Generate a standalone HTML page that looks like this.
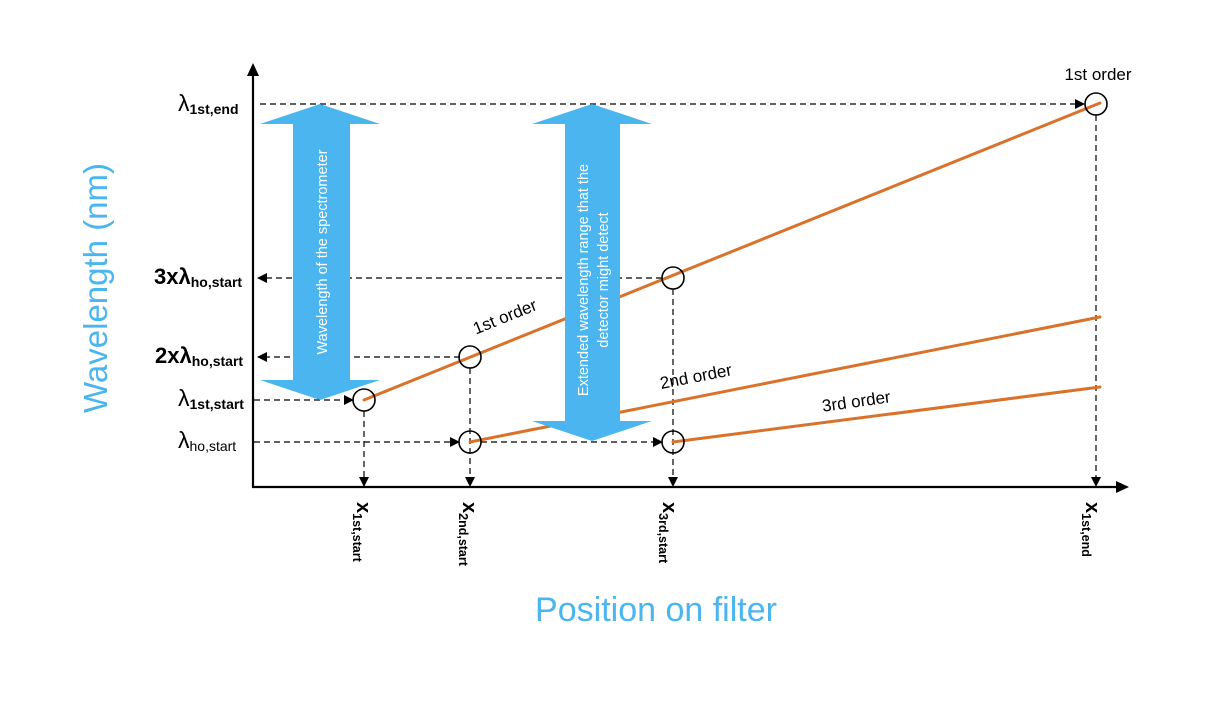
<!DOCTYPE html>
<html><head><meta charset="utf-8"><style>
html,body{margin:0;padding:0;background:#fff}
svg{display:block}
text{font-family:"Liberation Sans",sans-serif}
</style></head><body>
<svg width="1224" height="709" viewBox="0 0 1224 709" xmlns="http://www.w3.org/2000/svg">
<defs>
<marker id="ah" markerWidth="10" markerHeight="10" refX="9" refY="5" orient="auto" markerUnits="userSpaceOnUse"><path d="M0,0 L10,5 L0,10 z" fill="#000"/></marker>
</defs>
<g stroke="#000" stroke-width="1.2" stroke-dasharray="6,4" fill="none" marker-end="url(#ah)">
<line x1="260" y1="104" x2="1084" y2="104"/>
<line x1="662" y1="278" x2="258" y2="278"/>
<line x1="460" y1="357" x2="258" y2="357"/>
<line x1="254" y1="400" x2="353" y2="400"/>
<line x1="254" y1="442" x2="459" y2="442"/>
<line x1="481" y1="442" x2="662" y2="442"/>
<line x1="364" y1="411" x2="364" y2="486"/>
<line x1="470" y1="368" x2="470" y2="486"/>
<line x1="673" y1="289" x2="673" y2="486"/>
<line x1="1096" y1="115" x2="1096" y2="486"/>
</g>
<g stroke="#D9722A" stroke-width="3" stroke-linecap="round">
<line x1="364" y1="400" x2="1100" y2="103"/>
<line x1="470" y1="442" x2="1100" y2="317"/>
<line x1="673" y1="442" x2="1100" y2="387"/>
</g>
<g stroke="#000" stroke-width="1.6" fill="none">
<circle cx="364" cy="400" r="11"/>
<circle cx="470" cy="357" r="11"/>
<circle cx="470" cy="442" r="11"/>
<circle cx="673" cy="278" r="11"/>
<circle cx="673" cy="442" r="11"/>
<circle cx="1096" cy="104" r="11"/>
</g>
<line x1="253" y1="488" x2="253" y2="74" stroke="#000" stroke-width="2.2"/>
<path d="M247,76 L253,63 L259,76 z" fill="#000"/>
<line x1="252" y1="487" x2="1118" y2="487" stroke="#000" stroke-width="2.2"/>
<path d="M1116,481 L1129,487 L1116,493 z" fill="#000"/>
<path d="M320,104 L380,124 L350,124 L350,380 L380,380 L320,400 L260,380 L293,380 L293,124 L260,124 z" fill="#4AB5EF"/>
<path d="M592,104 L652,124 L620,124 L620,421 L652,421 L592,441 L532,421 L565,421 L565,124 L532,124 z" fill="#4AB5EF"/>
<text transform="translate(327,252) rotate(-90)" text-anchor="middle" fill="#fff" font-size="14.5">Wavelength of the spectrometer</text>
<text transform="translate(588,280) rotate(-90)" text-anchor="middle" fill="#fff" font-size="14.5">Extended wavelength range that the</text>
<text transform="translate(608,280) rotate(-90)" text-anchor="middle" fill="#fff" font-size="14.5">detector might detect</text>
<text transform="translate(507,322) rotate(-22)" text-anchor="middle" font-size="17">1st order</text>
<text transform="translate(697,382) rotate(-11)" text-anchor="middle" font-size="17">2nd order</text>
<text transform="translate(857,407) rotate(-8)" text-anchor="middle" font-size="17">3rd order</text>
<text x="1098" y="80" text-anchor="middle" font-size="17">1st order</text>
<text x="178" y="111" font-size="23">λ<tspan font-size="14" font-weight="bold" dy="3">1st,end</tspan></text>
<text x="154" y="284" font-size="22" font-weight="bold">3xλ<tspan font-size="14" dy="3">ho,start</tspan></text>
<text x="155" y="363" font-size="22" font-weight="bold">2xλ<tspan font-size="14" dy="3">ho,start</tspan></text>
<text x="178" y="406" font-size="23">λ<tspan font-size="14" font-weight="bold" dy="3">1st,start</tspan></text>
<text x="178" y="448" font-size="23">λ<tspan font-size="14" dy="3">ho,start</tspan></text>
<text transform="translate(357,502) rotate(90)" font-size="20" font-weight="bold">x<tspan font-size="12.5" dy="4">1st,start</tspan></text>
<text transform="translate(463,502) rotate(90)" font-size="20" font-weight="bold">x<tspan font-size="12.5" dy="4">2nd,start</tspan></text>
<text transform="translate(663,502) rotate(90)" font-size="20" font-weight="bold">x<tspan font-size="12.5" dy="4">3rd,start</tspan></text>
<text transform="translate(1086,502) rotate(90)" font-size="20" font-weight="bold">x<tspan font-size="12.5" dy="4">1st,end</tspan></text>
<text transform="translate(107,288) rotate(-90)" text-anchor="middle" font-size="33" fill="#4AB5EF">Wavelength (nm)</text>
<text x="656" y="621" text-anchor="middle" font-size="34" fill="#4AB5EF">Position on filter</text>
</svg>
</body></html>
